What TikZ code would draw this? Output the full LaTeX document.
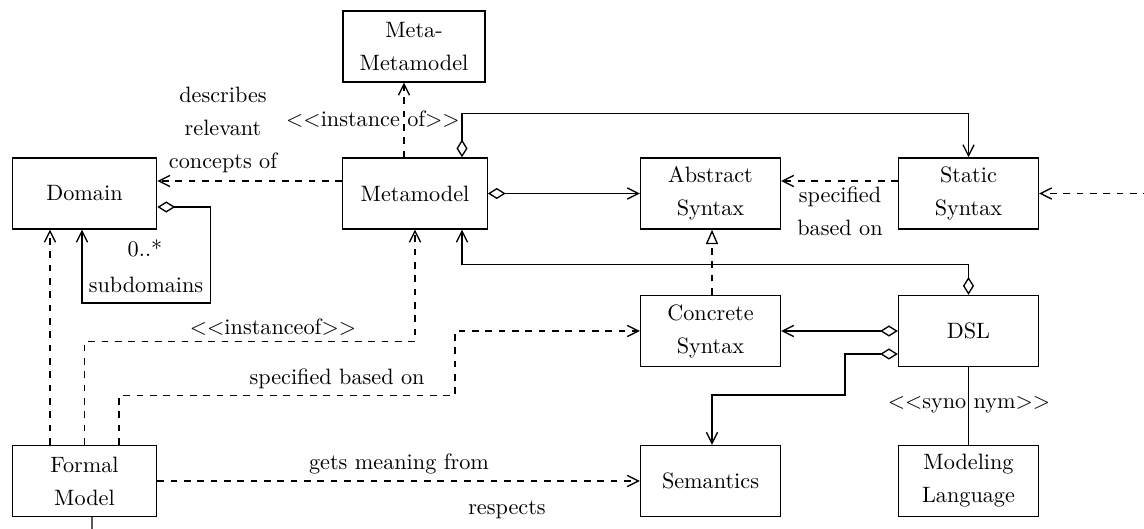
\documentclass[tikz,border=0pt]{standalone}
\usetikzlibrary{arrows.meta,calc}
\begin{document}
\begin{tikzpicture}[x=0.45pt,y=-0.45pt,semithick,
    box/.style={draw,align=center,minimum width=63pt,minimum height=32pt,inner sep=2pt,font=\linespread{1.24}\selectfont},
    widebox/.style={box,minimum width=65pt},
    lbl/.style={align=center,inner sep=0pt,font=\linespread{1.24}\selectfont},
    dep/.style={dashed,-{Straight Barb[length=5pt,width=5pt]}},
    assoc/.style={-{Straight Barb[length=5pt,width=5pt]}},
    aggr/.style={{Diamond[open,length=8pt,width=5pt]}-{Straight Barb[length=5pt,width=5pt]}},
    real/.style={dashed,-{Triangle[open,length=6.5pt,width=5.5pt]}}]
    \useasboundingbox (0,0) rectangle (1144,528);
    \node[box,minimum width=64pt] (metameta) at (414,46.5) {Meta-\\Metamodel};
    \node[widebox] (domain) at (84.5,193.5) {Domain};
    \node[widebox] (meta) at (415,193.5) {Metamodel};
    \node[box] (abstract) at (710.5,193.5) {Abstract\\Syntax};
    \node[box] (static) at (968.5,193.5) {Static\\Syntax};
    \node[box] (concrete) at (710.5,331) {Concrete\\Syntax};
    \node[box] (dsl) at (968.5,331) {DSL};
    \node[box] (semantics) at (710.5,481) {Semantics};
    \node[box] (modeling) at (968.5,481) {Modeling\\Language};
    \node[widebox] (formal) at (84.5,481) {Formal\\Model};
    \coordinate (offright) at (1150,193.5);
    \coordinate (offbottom) at (92,535);
    \draw[dep] ($(meta.north)+(-11,0)$) -- ($(metameta.south)+(-10,0)$);
    \draw[dep] ($(meta.west)+(0,-12.5)$) -- ($(domain.east)+(0,-12.5)$);
    \draw[aggr] ($(meta.north)+(47,0)$) -- ++(0,-44) -| (static.north);
    \draw[aggr] (meta.east) -- (abstract.west);
    \draw[dep] ($(static.west)+(0,-12.5)$) -- ($(abstract.east)+(0,-12.5)$);
    \draw[dep] (offright) -- (static.east);
    \draw[real] ($(concrete.north)+(1.5,0)$) -- ($(abstract.south)+(1.5,0)$);
    \draw[aggr] (dsl.north) -- ++(0,-30) -| ($(meta.south)+(47,0)$);
    \draw[aggr] (dsl.west) -- (concrete.east);
    \draw[aggr] ($(dsl.west)+(0,23)$) -- ++(-53,0) -- ++(0,41) -| ($(semantics.north)+(1.5,0)$);
    \draw (dsl.south) -- (modeling.north);
    \draw[dep] (formal.east) -- (semantics.west);
    \draw ($(formal.south)+(7.5,0)$) -- (offbottom);
    \draw[dep] ($(formal.north)+(-34.5,0)$) -- ($(domain.south)+(-34.5,0)$);
    \draw[dep] (formal.north) -- ++(0,-103) -| (meta.south);
    \draw[dep] ($(formal.north)+(34.5,0)$) -- ++(0,-49) -- ++(336,0) |- (concrete.west);
    \draw[aggr] ($(domain.east)+(0,13.5)$) -- ++(53,0) -- ++(0,96) -| ($(domain.south)+(-2.5,0)$);
    \node[lbl] (describes) at (223,130) {describes\\relevant\\concepts of};
    \node[lbl] (instof) at (373,119) {$<<$instance of$>>$};
    \node[lbl] (specstatic) at (840,211) {specified\\based on};
    \node[lbl] (mult) at (145,248) {0..*};
    \node[lbl] (subdom) at (146,285) {subdomains};
    \node[lbl] (instof2) at (273,327) {$<<$instanceof$>>$};
    \node[lbl] (specformal) at (337,379) {specified based on};
    \node[lbl] (meaning) at (399,464) {gets meaning from};
    \node[lbl] (respects) at (507,510) {respects};
    \node[lbl] (synonym) at (969,405) {$<<$syno nym$>>$};
\end{tikzpicture}
\end{document}
